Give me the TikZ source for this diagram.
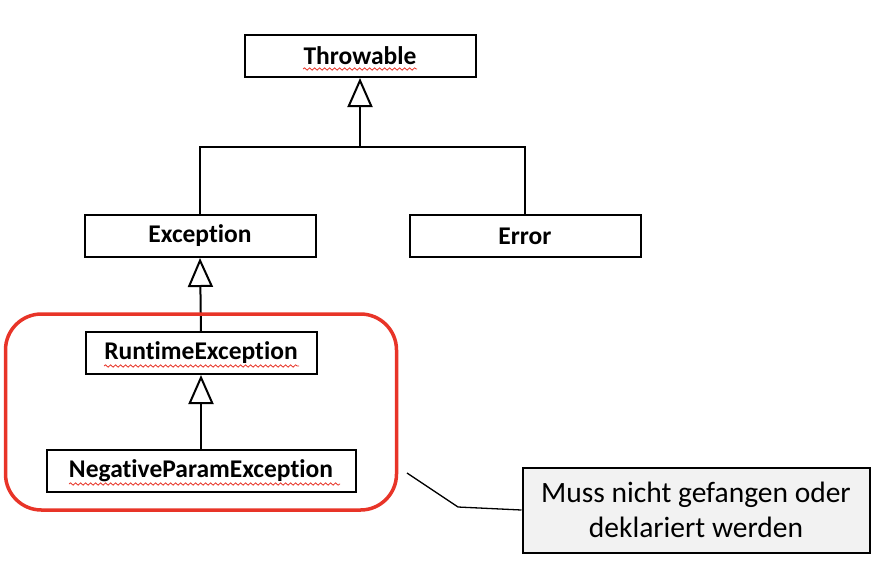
\documentclass[tikz,border=0pt]{standalone}
\usepackage{fontspec}
\setmainfont{Carlito}[Ligatures=CommonOff]
\usetikzlibrary{arrows.meta,fit,decorations.pathmorphing}
\definecolor{markred}{RGB}{232,52,40}
\definecolor{notegray}{RGB}{242,242,242}
\tikzset{
  cls/.style={draw, line width=2pt, minimum width=231pt, minimum height=42pt,
    inner sep=0pt, font=\fontsize{25.5}{30}\selectfont\bfseries},
  inherit/.style={line width=2pt, -{Triangle[open, length=29pt, width=25pt, line width=2pt]}},
  spell/.style={markred, line width=0.8pt, decorate,
    decoration={snake, amplitude=1.2pt, segment length=5pt}},
}
\begin{document}
\begin{tikzpicture}[x=1pt,y=-1pt]
  \useasboundingbox (0,0) rectangle (888,574);

  \node[cls] (thr) at (360, 56) {Throwable};
  \node[cls] (exc) at (200, 236) {Exception};
  \node[cls] (err) at (525, 236) {Error};
  \node[cls] (rte) at (201, 353) {RuntimeException};
  \node[cls, minimum width=309pt] (neg) at (201, 471) {NegativeParamException};

  % spell check marks
  \draw[spell] ([shift={(-57,13)}]thr.center) -- ++(114,0);
  \draw[spell] ([shift={(-97,13)}]rte.center) -- ++(195,0);
  \draw[spell] ([shift={(-132,13)}]neg.center) -- ++(271,0);

  % inheritance
  \coordinate (junc) at (360, 147);
  \draw[line width=2pt] (exc.north) |- (junc) -| (err.north);
  \draw[inherit] (junc) -- (thr.south);
  \draw[inherit] (rte.north) -- (exc.south);
  \draw[inherit] (neg.north) -- (rte.south);

  % unchecked group
  \node[draw=markred, line width=3.5pt, rounded corners=36pt, inner xsep=40pt,
    inner ysep=17pt, fit=(rte)(neg)] (grp) {};

  \node[draw, line width=2pt, fill=notegray, minimum width=347pt, minimum height=85pt,
    align=center, font=\fontsize{29.5}{35}\selectfont] (note) at (696, 510)
    {Muss nicht gefangen oder\\deklariert werden};
  \coordinate (ptr) at (407, 473);
  \coordinate (bend) at (458, 507);
  \draw[line width=1.3pt] (ptr) -- (bend) -- (note.west);
\end{tikzpicture}
\end{document}
